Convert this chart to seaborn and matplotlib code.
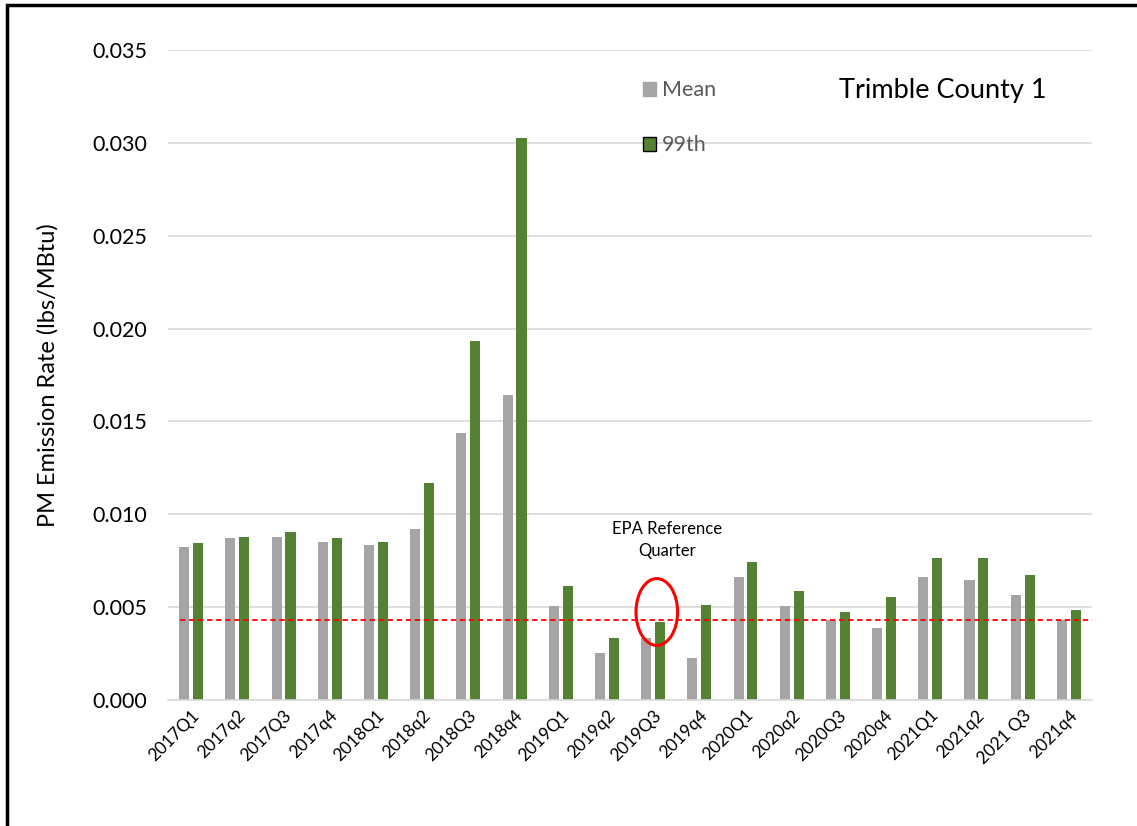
import matplotlib
matplotlib.use("Agg")
import matplotlib.pyplot as plt
from matplotlib.patches import Ellipse, Rectangle, Patch
import seaborn as sns
import pandas as pd

quarters = ["2017Q1", "2017q2", "2017Q3", "2017q4", "2018Q1", "2018q2", "2018Q3",
            "2018q4", "2019Q1", "2019q2", "2019Q3", "2019q4", "2020Q1", "2020q2",
            "2020Q3", "2020q4", "2021Q1", "2021q2", "2021 Q3", "2021q4"]
mean_rate = [0.00824, 0.00871, 0.00879, 0.00853, 0.00835, 0.00923, 0.01438,
             0.01642, 0.00506, 0.00251, 0.00332, 0.00224, 0.00664, 0.00506,
             0.00431, 0.00388, 0.00662, 0.00646, 0.00565, 0.00431]
p99_rate = [0.00844, 0.00879, 0.00905, 0.00871, 0.00853, 0.01166, 0.01933,
            0.03026, 0.00614, 0.00332, 0.00422, 0.00511, 0.00745, 0.00587,
            0.00474, 0.00555, 0.00765, 0.00765, 0.00673, 0.00485]
series_names = ["Mean", "99th"]
reference_level = 0.0043
reference_quarter = "2019Q3"
y_ticks = [0.000, 0.005, 0.010, 0.015, 0.020, 0.025, 0.030, 0.035]

df = pd.DataFrame({
    "Quarter": quarters * 2,
    "Series": [series_names[0]] * len(quarters) + [series_names[1]] * len(quarters),
    "Rate": mean_rate + p99_rate,
})

sns.set_theme(style="white")
plt.rcParams["font.family"] = ["Lato", "DejaVu Sans"]

GRAY = "#a5a5a5"
GREEN = "#548235"

fig = plt.figure(figsize=(11.37, 8.26), dpi=100)
ax = fig.add_axes([0.1478, 0.1525, 0.8126, 0.787])

sns.barplot(data=df, x="Quarter", y="Rate", hue="Series", order=quarters,
            hue_order=series_names, palette=[GRAY, GREEN], width=0.6, gap=0.27,
            ax=ax, legend=False, edgecolor="none", saturation=1)

ax.set_ylim(0, 0.035)
ax.set_xlim(-0.5, len(quarters) - 0.5)
ax.set_yticks(y_ticks)
ax.set_yticklabels([f"{v:.3f}" for v in y_ticks], fontsize=15.5, color="black")
ax.yaxis.grid(True, color="#d9d9d9", linewidth=1.2)
ax.set_axisbelow(True)
for s in ["top", "right", "left"]:
    ax.spines[s].set_visible(False)
ax.spines["bottom"].set_color("#d9d9d9")
ax.spines["bottom"].set_linewidth(1.2)
ax.tick_params(axis="y", length=0, pad=15)
ax.tick_params(axis="x", length=0, pad=5)
ax.set_xticks(range(len(quarters)))
ax.set_xticklabels(quarters, rotation=45, ha="right", rotation_mode="anchor",
                   fontsize=12.5, color="black")
ax.set_xlabel("")
ax.set_ylabel("PM Emission Rate (lbs/MBtu)", fontsize=17, color="black")
ax.yaxis.set_label_coords(-0.118, 0.5)

# reference level across the quarters
ax.plot([-0.25, len(quarters) - 0.5], [reference_level, reference_level],
        color="red", linestyle=(0, (3, 2)), linewidth=1.3)

# highlight the reference quarter
qi = quarters.index(reference_quarter)
ax.add_patch(Ellipse((qi + 0.08, 0.00474), width=0.9, height=0.0036,
                     fill=False, edgecolor="red", linewidth=2.2))
ax.text(qi + 0.3, 0.00862, "EPA Reference\nQuarter", ha="center", va="center",
        fontsize=12, color="black", linespacing=1.45)

handles = [Patch(facecolor=GRAY, edgecolor="#a5a5a5", label="Mean"),
           Patch(facecolor=GREEN, edgecolor="black", label="99th")]
leg = ax.legend(handles=handles, loc="upper left", bbox_to_anchor=(0.493, 0.983),
                frameon=False, fontsize=15.5, labelspacing=1.62, handlelength=0.6,
                handleheight=0.6, handletextpad=0.3)
for t in leg.get_texts():
    t.set_color("#595959")

ax.text(0.838, 0.9375, "Trimble County 1", transform=ax.transAxes, ha="center",
        va="center", fontsize=19.5, color="black")

# outer frame
fig.patches.append(Rectangle((7 / 1137, -0.1), 1.2, 1.1 - 5 / 826,
                             transform=fig.transFigure, fill=False,
                             edgecolor="black", linewidth=2.5))

fig.savefig("out.png", dpi=100)
